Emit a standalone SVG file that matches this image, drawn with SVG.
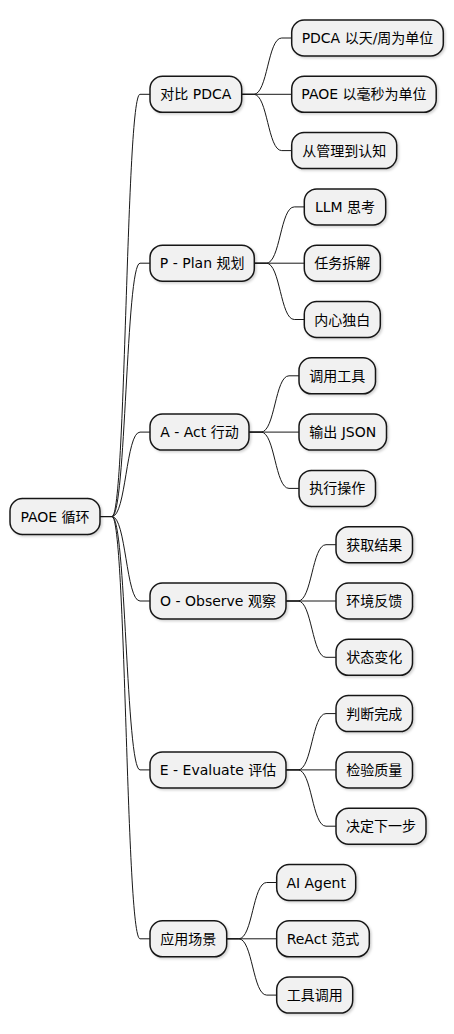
<svg xmlns="http://www.w3.org/2000/svg" width="454" height="1034" viewBox="0 0 454 1034">
<defs>
<filter id="sh" x="-10%" y="-20%" width="130%" height="160%">
<feDropShadow dx="1.5" dy="1.5" stdDeviation="1.2" flood-color="#000" flood-opacity="0.18"/>
</filter>
</defs>
<style>
.n rect{fill:#F1F1F1;stroke:#181818;stroke-width:1.5;filter:url(#sh)}
.n text{font-family:"DejaVu Sans","Noto Sans CJK SC",sans-serif;font-size:14px;fill:#000;text-anchor:middle}
.c path{fill:none;stroke:#181818;stroke-width:1}
</style>
<rect width="454" height="1034" fill="#FFFFFF"/>
<g class="c" id="connectors">
<path d="M100,516.55 H112 C126,516.55 126,94.3 140,94.3 H150"/>
<path d="M100,516.55 H112 C126,516.55 126,263.2 140,263.2 H150"/>
<path d="M100,516.55 H112 C126,516.55 126,432.1 140,432.1 H150"/>
<path d="M100,516.55 H112 C126,516.55 126,601 140,601 H150"/>
<path d="M100,516.55 H112 C126,516.55 126,769.9 140,769.9 H150"/>
<path d="M100,516.55 H112 C126,516.55 126,938.8 140,938.8 H150"/>
<path d="M241.7,94.3 H253.7 C267.7,94.3 267.7,38 281.7,38 H291.7"/>
<path d="M241.7,94.3 H291.7"/>
<path d="M241.7,94.3 H253.7 C267.7,94.3 267.7,150.6 281.7,150.6 H291.7"/>
<path d="M254.3,263.2 H266.3 C280.3,263.2 280.3,206.9 294.3,206.9 H304.3"/>
<path d="M254.3,263.2 H304.3"/>
<path d="M254.3,263.2 H266.3 C280.3,263.2 280.3,319.5 294.3,319.5 H304.3"/>
<path d="M249,432.1 H261 C275,432.1 275,375.8 289,375.8 H299"/>
<path d="M249,432.1 H299"/>
<path d="M249,432.1 H261 C275,432.1 275,488.4 289,488.4 H299"/>
<path d="M286,601 H298 C312,601 312,544.7 326,544.7 H336"/>
<path d="M286,601 H336"/>
<path d="M286,601 H298 C312,601 312,657.3 326,657.3 H336"/>
<path d="M286,769.9 H298 C312,769.9 312,713.6 326,713.6 H336"/>
<path d="M286,769.9 H336"/>
<path d="M286,769.9 H298 C312,769.9 312,826.2 326,826.2 H336"/>
<path d="M226.7,938.8 H238.7 C252.7,938.8 252.7,882.5 266.7,882.5 H276.7"/>
<path d="M226.7,938.8 H276.7"/>
<path d="M226.7,938.8 H238.7 C252.7,938.8 252.7,995.1 266.7,995.1 H276.7"/>
</g>
<g class="n" id="root"><rect x="10" y="498.5" width="90" height="36" rx="12.5"/><text x="55" y="521.5">PAOE 循环</text></g>
<g class="n" id="n1"><rect x="150" y="76.3" width="91.7" height="36" rx="12.5"/><text x="195.85" y="99.3">对比 PDCA</text></g>
<g class="n" id="n2"><rect x="150" y="245.2" width="104.3" height="36" rx="12.5"/><text x="202.15" y="268.2">P - Plan 规划</text></g>
<g class="n" id="n3"><rect x="150" y="414.1" width="99" height="36" rx="12.5"/><text x="199.5" y="437.1">A - Act 行动</text></g>
<g class="n" id="n4"><rect x="150" y="583" width="136" height="36" rx="12.5"/><text x="218" y="606">O - Observe 观察</text></g>
<g class="n" id="n5"><rect x="150" y="751.9" width="136" height="36" rx="12.5"/><text x="218" y="774.9">E - Evaluate 评估</text></g>
<g class="n" id="n6"><rect x="150" y="920.8" width="76.7" height="36" rx="12.5"/><text x="188.35" y="943.8">应用场景</text></g>
<g class="n" id="n1a"><rect x="291.7" y="20" width="151.6" height="36" rx="12.5"/><text x="367.5" y="43">PDCA 以天/周为单位</text></g>
<g class="n" id="n1b"><rect x="291.7" y="76.3" width="144.5" height="36" rx="12.5"/><text x="363.95" y="99.3">PAOE 以毫秒为单位</text></g>
<g class="n" id="n1c"><rect x="291.7" y="132.6" width="105" height="36" rx="12.5"/><text x="344.2" y="155.6">从管理到认知</text></g>
<g class="n" id="n2a"><rect x="304.3" y="188.9" width="81.4" height="36" rx="12.5"/><text x="345" y="211.9">LLM 思考</text></g>
<g class="n" id="n2b"><rect x="304.3" y="245.2" width="76" height="36" rx="12.5"/><text x="342.3" y="268.2">任务拆解</text></g>
<g class="n" id="n2c"><rect x="304.3" y="301.5" width="76" height="36" rx="12.5"/><text x="342.3" y="324.5">内心独白</text></g>
<g class="n" id="n3a"><rect x="299" y="357.8" width="76.5" height="36" rx="12.5"/><text x="337.25" y="380.8">调用工具</text></g>
<g class="n" id="n3b"><rect x="299" y="414.1" width="87.5" height="36" rx="12.5"/><text x="342.75" y="437.1">输出 JSON</text></g>
<g class="n" id="n3c"><rect x="299" y="470.4" width="76.5" height="36" rx="12.5"/><text x="337.25" y="493.4">执行操作</text></g>
<g class="n" id="n4a"><rect x="336" y="526.7" width="76.5" height="36" rx="12.5"/><text x="374.25" y="549.7">获取结果</text></g>
<g class="n" id="n4b"><rect x="336" y="583" width="76.5" height="36" rx="12.5"/><text x="374.25" y="606">环境反馈</text></g>
<g class="n" id="n4c"><rect x="336" y="639.3" width="76.5" height="36" rx="12.5"/><text x="374.25" y="662.3">状态变化</text></g>
<g class="n" id="n5a"><rect x="336" y="695.6" width="76.5" height="36" rx="12.5"/><text x="374.25" y="718.6">判断完成</text></g>
<g class="n" id="n5b"><rect x="336" y="751.9" width="76.5" height="36" rx="12.5"/><text x="374.25" y="774.9">检验质量</text></g>
<g class="n" id="n5c"><rect x="336" y="808.2" width="90" height="36" rx="12.5"/><text x="381" y="831.2">决定下一步</text></g>
<g class="n" id="n6a"><rect x="276.7" y="864.5" width="79" height="36" rx="12.5"/><text x="316.2" y="887.5">AI Agent</text></g>
<g class="n" id="n6b"><rect x="276.7" y="920.8" width="92.6" height="36" rx="12.5"/><text x="323" y="943.8">ReAct 范式</text></g>
<g class="n" id="n6c"><rect x="276.7" y="977.1" width="76" height="36" rx="12.5"/><text x="314.7" y="1000.1">工具调用</text></g>
</svg>
